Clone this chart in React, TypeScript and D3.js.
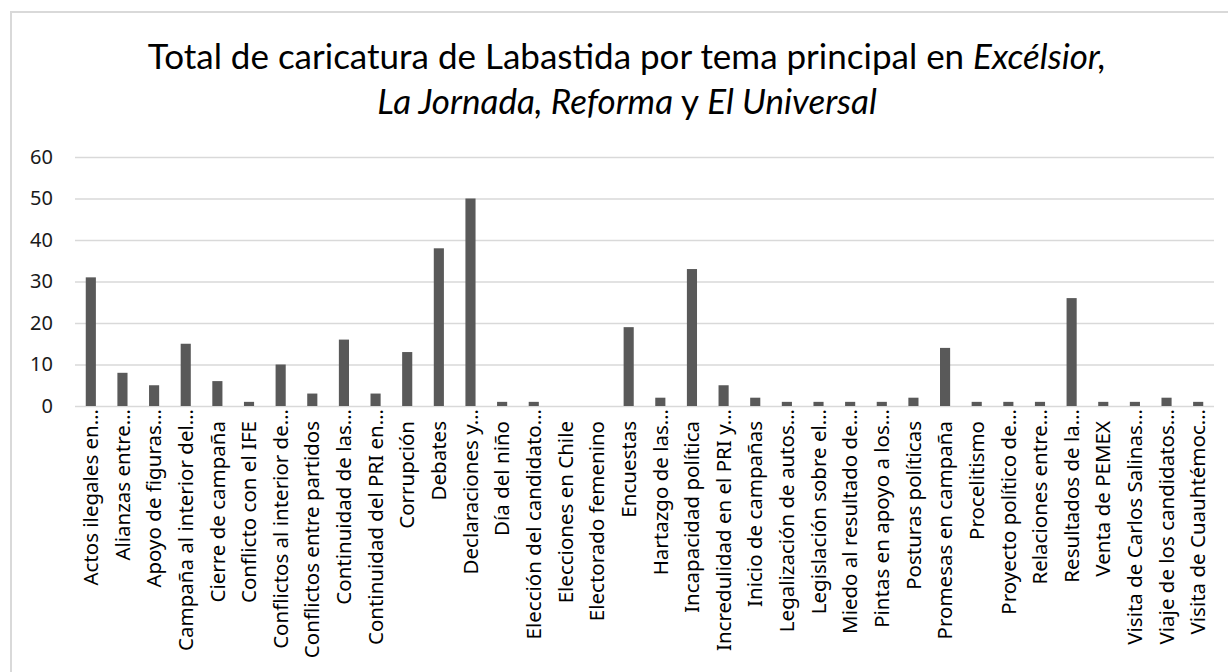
import * as d3 from "d3";
import React, { useEffect, useRef } from "react";

// categories as shown (Excel truncates long ones)
const categories = [
  "Actos ilegales en…",
  "Alianzas entre…",
  "Apoyo  de figuras…",
  "Campaña al interior del…",
  "Cierre de campaña",
  "Conflicto con el IFE",
  "Conflictos al interior de…",
  "Conflictos entre partidos",
  "Continuidad de las…",
  "Continuidad del PRI en…",
  "Corrupción",
  "Debates",
  "Declaraciones y…",
  "Día del niño",
  "Elección del candidato…",
  "Elecciones en Chile",
  "Electorado femenino",
  "Encuestas",
  "Hartazgo de las…",
  "Incapacidad política",
  "Incredulidad en el PRI y…",
  "Inicio de campañas",
  "Legalización de autos…",
  "Legislación sobre el…",
  "Miedo al resultado de…",
  "Pintas en apoyo a los…",
  "Posturas políticas",
  "Promesas en campaña",
  "Procelitismo",
  "Proyecto político de…",
  "Relaciones entre…",
  "Resultados de la…",
  "Venta de PEMEX",
  "Visita de Carlos Salinas…",
  "Viaje de los candidatos…",
  "Visita de Cuauhtémoc…",
];

const totals = [
  31, 8, 5, 15, 6, 1, 10, 3, 16, 3, 13, 38, 50, 1, 1, 0, 0, 19, 2, 33, 5, 2,
  1, 1, 1, 1, 2, 14, 1, 1, 1, 26, 1, 1, 2, 1,
];

const yTicks = [0, 10, 20, 30, 40, 50, 60];

const App: React.FC = () => {
  const ref = useRef<SVGSVGElement>(null);

  useEffect(() => {
    if (!ref.current) return;
    const svg = d3.select(ref.current);
    svg.selectAll("*").remove();

    const width = 1228,
      height = 672,
      margin = { top: 157, right: 14, bottom: 266, left: 75 };

    const font = "'Noto Sans', 'Open Sans', sans-serif";

    // chart frame
    svg
      .append("rect")
      .attr("x", 11)
      .attr("y", 12)
      .attr("width", width)
      .attr("height", height)
      .attr("fill", "white")
      .attr("stroke", "#d9d9d9")
      .attr("stroke-width", 2);

    // title, two lines, newspaper names in italics
    const titleStyle = (t: d3.Selection<SVGTextElement, unknown, null, undefined>) =>
      t
        .attr("x", 627)
        .attr("text-anchor", "middle")
        .style("font-family", "Lato, sans-serif")
        .style("font-size", "35px")
        .attr("fill", "#000");

    const l1 = svg.append("text").call(titleStyle).attr("y", 69);
    l1.append("tspan").text("Total de caricatura de Labastida por tema principal en ");
    l1.append("tspan").style("font-style", "italic").text("Excélsior,");
    const l2 = svg.append("text").call(titleStyle).attr("y", 114);
    l2.append("tspan").style("font-style", "italic").text("La Jornada, Reforma");
    l2.append("tspan").text(" y ");
    l2.append("tspan").style("font-style", "italic").text("El Universal");

    const x = d3
      .scaleBand()
      .domain(categories)
      .range([margin.left, width - margin.right])
      .paddingInner(0.68)
      .paddingOuter(0.34);

    const y = d3
      .scaleLinear()
      .domain([0, 60])
      .range([height - margin.bottom, margin.top]);

    // grid + y labels
    const yAxis = svg
      .append("g")
      .attr("transform", `translate(${margin.left},0)`)
      .call(
        d3
          .axisLeft(y)
          .tickValues(yTicks)
          .tickSize(-(width - margin.left - margin.right))
          .tickPadding(22)
      );
    yAxis.select(".domain").remove();
    yAxis.selectAll(".tick line").attr("stroke", "#d9d9d9").attr("stroke-width", 1.5);
    yAxis
      .selectAll(".tick text")
      .attr("fill", "#1a1a1a")
      .style("font-family", font)
      .style("font-size", "20px");

    // bars
    svg
      .append("g")
      .selectAll("rect")
      .data(totals)
      .enter()
      .append("rect")
      .attr("x", (_, i) => x(categories[i])!)
      .attr("width", x.bandwidth())
      .attr("y", (d) => y(d))
      .attr("height", (d) => y(0) - y(d))
      .attr("fill", "#595959");

    // category labels, rotated
    svg
      .append("g")
      .selectAll("text")
      .data(categories)
      .enter()
      .append("text")
      .attr(
        "transform",
        (d) =>
          `translate(${x(d)! + x.bandwidth() / 2},${y(0) + (d.endsWith("…") ? 3 : 15)}) rotate(-90)`
      )
      .attr("text-anchor", "end")
      .attr("dy", "0.35em")
      .attr("fill", "#000")
      .style("font-family", font)
      .style("font-size", "20.5px")
      .text((d) => d);
  }, []);

  return (
    <svg
      ref={ref}
      width={1228}
      height={672}
      style={{ position: "absolute", left: 0, top: 0, display: "block" }}
    />
  );
};

export default App;
